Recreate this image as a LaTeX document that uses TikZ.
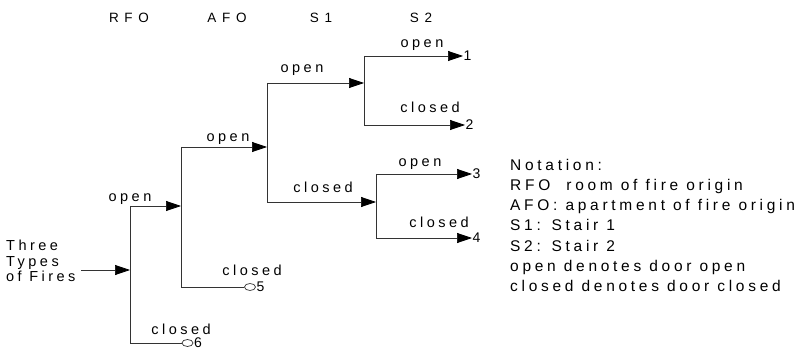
\documentclass[tikz,border=0pt]{standalone}
\usepackage{fontspec}
\setmainfont{Liberation Sans}[LetterSpace=24]
\newfontfamily\hdrfont{Liberation Sans}[LetterSpace=42]
\newfontfamily\numfont{Liberation Sans}
\usetikzlibrary{arrows.meta,shapes.geometric}
\begin{document}
\begin{tikzpicture}[x=1pt,y=-1pt,
  line/.style={draw=black!80, line width=0.7pt},
  arr/.style={line, -{Triangle[length=15pt,width=10pt,black]}},
  lbl/.style={font=\fontsize{14.5}{16}\selectfont, anchor=base, inner sep=0pt},
  hdr/.style={font=\hdrfont\fontsize{13.5}{16}\selectfont, anchor=base, inner sep=0pt},
  leaf/.style={font=\numfont\fontsize{14}{16}\selectfont, anchor=west, inner sep=0.5pt},
  endo/.style={draw=black!80, line width=0.7pt, ellipse, minimum width=11pt, minimum height=7pt, inner sep=0pt},
  note/.style={font=\fontsize{15.5}{20}\selectfont, anchor=base west, inner sep=0pt},
  src/.style={font=\fontsize{14.5}{15}\selectfont, anchor=base west, inner sep=0pt}]
\useasboundingbox (0,0) rectangle (804,350);
% headers
\node[hdr] (hR) at (129,23) {RFO};
\node[hdr] (hA) at (227,23) {AFO};
\node[hdr] (hS1) at (321,23) {S1};
\node[hdr] (hS2) at (421,23) {S2};
% source text
\node[src] (t1) at (6,251) {Three};
\node[src] (t2) at (6,266.5) {Types};
\node[src] (t3) at (6,281.5) {of Fires};
% junction coordinates
\coordinate (in) at (81,270);
\coordinate (rfo) at (130,270);
\coordinate (rfoT) at (130,206);
\coordinate (rfoB) at (130,343);
\coordinate (afo) at (181,206);
\coordinate (afoT) at (181,147);
\coordinate (afoB) at (181,287);
\coordinate (sa) at (267,147);
\coordinate (saT) at (267,83);
\coordinate (saB) at (267,202);
\coordinate (sb) at (364,83);
\coordinate (sbT) at (364,56);
\coordinate (sbB) at (364,125);
\coordinate (sc) at (376,202);
\coordinate (scT) at (376,174);
\coordinate (scB) at (376,238);
% leaves
\node[leaf] (o1) at (463,56) {1};
\node[leaf] (o2) at (465,125) {2};
\node[leaf] (o3) at (472,174) {3};
\node[leaf] (o4) at (472,238) {4};
\node[endo] (c5) at (250,287) {};
\node[leaf] (o5) at (c5.east) {5};
\node[endo] (c6) at (187.5,343) {};
\node[leaf] (o6) at (c6.east) {6};
% verticals
\draw[line] (rfoT) -- (rfoB);
\draw[line] (afoT) -- (afoB);
\draw[line] (saT) -- (saB);
\draw[line] (sbT) -- (sbB);
\draw[line] (scT) -- (scB);
% arrows
\draw[arr] (in) -- (rfo);
\draw[arr] (rfoT) -- (afo);
\draw[line] (rfoB) -- (c6.west);
\draw[arr] (afoT) -- (sa);
\draw[line] (afoB) -- (c5.west);
\draw[arr] (saT) -- (sb);
\draw[arr] (saB) -- (sc);
\draw[arr] (sbT) -- (o1.west);
\draw[arr] (sbB) -- (o2.west);
\draw[arr] (scT) -- (o3.west);
\draw[arr] (scB) -- (o4.west);
% labels
\node[lbl] (l1) at (130,201) {open};
\node[lbl] (l2) at (181,334) {closed};
\node[lbl] (l3) at (228,142) {open};
\node[lbl] (l4) at (252,275) {closed};
\node[lbl] (l5) at (302,73) {open};
\node[lbl] (l6) at (323,193) {closed};
\node[lbl] (l7) at (422,48) {open};
\node[lbl] (l8) at (430,113) {closed};
\node[lbl] (l9) at (420,167) {open};
\node[lbl] (l10) at (439,228) {closed};
% notation
\node[note] (n1) at (510,171) {Notation:};
\node[note] (n2) at (510,191) {RFO\ \ room of fire origin};
\node[note] (n3) at (510,211) {AFO: apartment of fire origin};
\node[note] (n4) at (510,231) {S1: Stair 1};
\node[note] (n5) at (510,251.5) {S2: Stair 2};
\node[note] (n6) at (510,271.5) {open denotes door open};
\node[note] (n7) at (510,291) {closed denotes door closed};
\end{tikzpicture}
\end{document}
